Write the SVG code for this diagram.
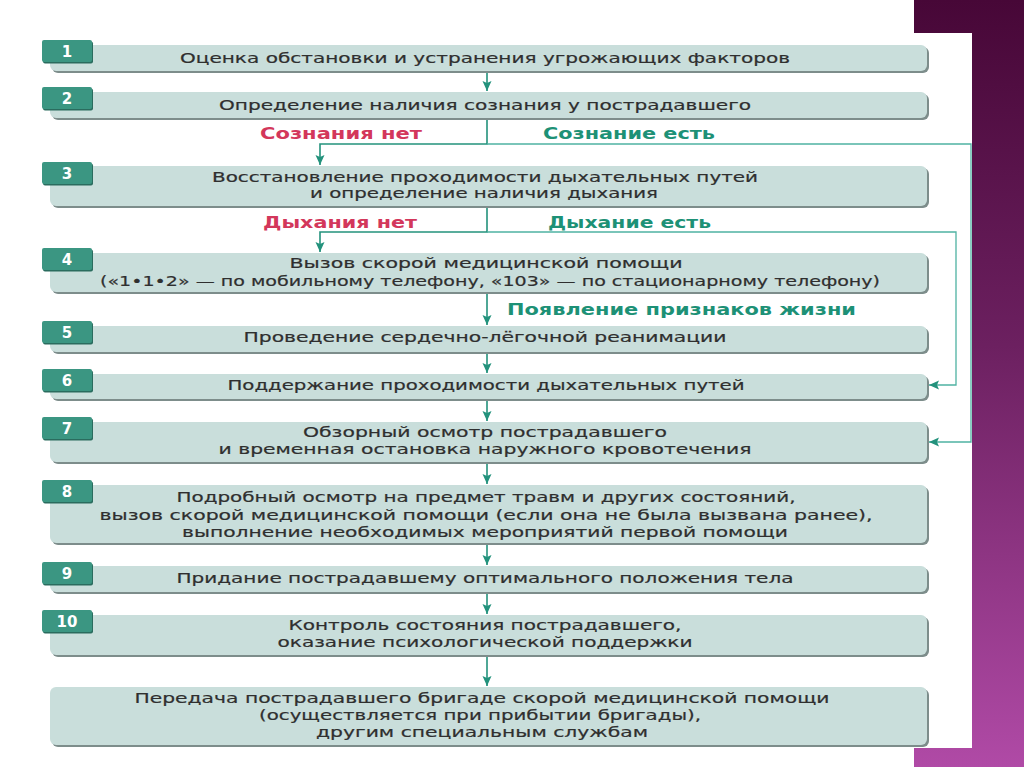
<svg xmlns="http://www.w3.org/2000/svg" width="1024" height="767" viewBox="0 0 1024 767">
<defs>
<linearGradient id="bg" x1="0" y1="0" x2="0" y2="1">
<stop offset="0" stop-color="#470737"/>
<stop offset="0.45" stop-color="#6c2060"/>
<stop offset="1" stop-color="#b04aa6"/>
</linearGradient>
<marker id="ah" markerWidth="10" markerHeight="10" refX="10" refY="5" orient="auto" markerUnits="userSpaceOnUse">
<path d="M0,0.5 L10,5 L0,9.5 L2,5 z" fill="#23927c"/>
</marker>
<style>
.sh{fill:#7d8d8b}
.bx{fill:#c9dedb}
.tb{fill:#3b9682}
.tbs{fill:#2a6c5e}
.num{font-family:"DejaVu Sans",sans-serif;font-weight:bold;font-size:15px;fill:#ffffff;text-anchor:middle}
.t{font-family:"DejaVu Sans",sans-serif;font-size:14.5px;fill:#2f2f2f;stroke:#2f2f2f;stroke-width:0.2;text-anchor:middle}
.lb{font-family:"DejaVu Sans",sans-serif;font-weight:bold;font-size:15px}
.red{fill:#d3375b}
.grn{fill:#1d9176}
.cn{fill:none;stroke:#23927c;stroke-width:1.6}
.cl{fill:none;stroke:#4fb2a2;stroke-width:1.3}
</style>
</defs>
<rect x="0" y="0" width="1024" height="767" fill="url(#bg)"/>
<rect x="0" y="0" width="914" height="767" fill="#ffffff"/>
<rect x="0" y="33" width="972" height="715" fill="#ffffff"/>

<g id="connectors">
<path class="cn" d="M487,72 V91" marker-end="url(#ah)"/>
<path class="cn" d="M487,118 V144 H320 V165" marker-end="url(#ah)"/>
<path class="cl" d="M487,144 H971 V442 H929" marker-end="url(#ah)"/>
<path class="cn" d="M487,207 V232 H320 V252" marker-end="url(#ah)"/>
<path class="cl" d="M487,232 H956 V385 H929" marker-end="url(#ah)"/>
<path class="cn" d="M487,293 V325" marker-end="url(#ah)"/>
<path class="cn" d="M487,353 V373" marker-end="url(#ah)"/>
<path class="cn" d="M487,400 V421" marker-end="url(#ah)"/>
<path class="cn" d="M487,463 V484" marker-end="url(#ah)"/>
<path class="cn" d="M487,544 V565" marker-end="url(#ah)"/>
<path class="cn" d="M487,593 V614" marker-end="url(#ah)"/>
<path class="cn" d="M487,656 V686" marker-end="url(#ah)"/>
</g>

<g id="labels">
<text class="lb red" x="260" y="139" textLength="162" lengthAdjust="spacingAndGlyphs">Сознания нет</text>
<text class="lb grn" x="543" y="139" textLength="172" lengthAdjust="spacingAndGlyphs">Сознание есть</text>
<text class="lb red" x="263" y="228" textLength="154" lengthAdjust="spacingAndGlyphs">Дыхания нет</text>
<text class="lb grn" x="548" y="228" textLength="163" lengthAdjust="spacingAndGlyphs">Дыхание есть</text>
<text class="lb grn" x="507" y="315" textLength="349" lengthAdjust="spacingAndGlyphs">Появление признаков жизни</text>
</g>

<g id="node1">
<rect class="sh" x="52" y="47" width="877" height="26" rx="6"/>
<rect class="bx" x="50" y="45" width="877" height="26" rx="6"/>
<rect class="tbs" x="43" y="41.5" width="50" height="22" rx="2"/>
<rect class="tb" x="42" y="40" width="50" height="22" rx="2"/>
<text class="num" x="67" y="57">1</text>
<text class="t" x="485" y="63" textLength="610" lengthAdjust="spacingAndGlyphs">Оценка обстановки и устранения угрожающих факторов</text>
</g>

<g id="node2">
<rect class="sh" x="52" y="94" width="877" height="26" rx="6"/>
<rect class="bx" x="50" y="92" width="877" height="26" rx="6"/>
<rect class="tbs" x="43" y="88.5" width="50" height="22" rx="2"/>
<rect class="tb" x="42" y="87" width="50" height="22" rx="2"/>
<text class="num" x="67" y="104">2</text>
<text class="t" x="485" y="110" textLength="532" lengthAdjust="spacingAndGlyphs">Определение наличия сознания у пострадавшего</text>
</g>

<g id="node3">
<rect class="sh" x="52" y="168" width="877" height="40" rx="6"/>
<rect class="bx" x="50" y="166" width="877" height="40" rx="6"/>
<rect class="tbs" x="43" y="163.5" width="50" height="22" rx="2"/>
<rect class="tb" x="42" y="162" width="50" height="22" rx="2"/>
<text class="num" x="67" y="179">3</text>
<text class="t" x="485" y="182" textLength="546" lengthAdjust="spacingAndGlyphs">Восстановление проходимости дыхательных путей</text>
<text class="t" x="484" y="198" textLength="348" lengthAdjust="spacingAndGlyphs">и определение наличия дыхания</text>
</g>

<g id="node4">
<rect class="sh" x="52" y="255" width="877" height="39" rx="6"/>
<rect class="bx" x="50" y="253" width="877" height="39" rx="6"/>
<rect class="tbs" x="43" y="249.5" width="50" height="22" rx="2"/>
<rect class="tb" x="42" y="248" width="50" height="22" rx="2"/>
<text class="num" x="67" y="265">4</text>
<text class="t" x="486" y="268" textLength="393" lengthAdjust="spacingAndGlyphs">Вызов скорой медицинской помощи</text>
<text class="t" x="490" y="286" textLength="780" lengthAdjust="spacingAndGlyphs">(«1•1•2» — по мобильному телефону, «103» — по стационарному телефону)</text>
</g>

<g id="node5">
<rect class="sh" x="52" y="328" width="877" height="26" rx="6"/>
<rect class="bx" x="50" y="326" width="877" height="26" rx="6"/>
<rect class="tbs" x="43" y="322.5" width="50" height="22" rx="2"/>
<rect class="tb" x="42" y="321" width="50" height="22" rx="2"/>
<text class="num" x="67" y="338">5</text>
<text class="t" x="485" y="342" textLength="483" lengthAdjust="spacingAndGlyphs">Проведение сердечно-лёгочной реанимации</text>
</g>

<g id="node6">
<rect class="sh" x="52" y="376" width="877" height="25" rx="6"/>
<rect class="bx" x="50" y="374" width="877" height="25" rx="6"/>
<rect class="tbs" x="43" y="370.5" width="50" height="22" rx="2"/>
<rect class="tb" x="42" y="369" width="50" height="22" rx="2"/>
<text class="num" x="67" y="386">6</text>
<text class="t" x="486" y="390" textLength="517" lengthAdjust="spacingAndGlyphs">Поддержание проходимости дыхательных путей</text>
</g>

<g id="node7">
<rect class="sh" x="52" y="424" width="877" height="40" rx="6"/>
<rect class="bx" x="50" y="422" width="877" height="40" rx="6"/>
<rect class="tbs" x="43" y="418.5" width="50" height="22" rx="2"/>
<rect class="tb" x="42" y="417" width="50" height="22" rx="2"/>
<text class="num" x="67" y="434">7</text>
<text class="t" x="485" y="437" textLength="364" lengthAdjust="spacingAndGlyphs">Обзорный осмотр пострадавшего</text>
<text class="t" x="485" y="454" textLength="533" lengthAdjust="spacingAndGlyphs">и временная остановка наружного кровотечения</text>
</g>

<g id="node8">
<rect class="sh" x="52" y="487" width="877" height="58" rx="6"/>
<rect class="bx" x="50" y="485" width="877" height="58" rx="6"/>
<rect class="tbs" x="43" y="481.5" width="50" height="22" rx="2"/>
<rect class="tb" x="42" y="480" width="50" height="22" rx="2"/>
<text class="num" x="67" y="497">8</text>
<text class="t" x="486" y="502" textLength="619" lengthAdjust="spacingAndGlyphs">Подробный осмотр на предмет травм и других состояний,</text>
<text class="t" x="486" y="520" textLength="773" lengthAdjust="spacingAndGlyphs">вызов скорой медицинской помощи (если она не была вызвана ранее),</text>
<text class="t" x="485" y="537" textLength="606" lengthAdjust="spacingAndGlyphs">выполнение необходимых мероприятий первой помощи</text>
</g>

<g id="node9">
<rect class="sh" x="52" y="568" width="877" height="26" rx="6"/>
<rect class="bx" x="50" y="566" width="877" height="26" rx="6"/>
<rect class="tbs" x="43" y="563.5" width="50" height="22" rx="2"/>
<rect class="tb" x="42" y="562" width="50" height="22" rx="2"/>
<text class="num" x="67" y="579">9</text>
<text class="t" x="485" y="583" textLength="617" lengthAdjust="spacingAndGlyphs">Придание пострадавшему оптимального положения тела</text>
</g>

<g id="node10">
<rect class="sh" x="52" y="617" width="877" height="40" rx="6"/>
<rect class="bx" x="50" y="615" width="877" height="40" rx="6"/>
<rect class="tbs" x="43" y="611.5" width="50" height="22" rx="2"/>
<rect class="tb" x="42" y="610" width="50" height="22" rx="2"/>
<text class="num" x="67" y="627">10</text>
<text class="t" x="485" y="630" textLength="393" lengthAdjust="spacingAndGlyphs">Контроль состояния пострадавшего,</text>
<text class="t" x="485" y="647" textLength="415" lengthAdjust="spacingAndGlyphs">оказание психологической поддержки</text>
</g>

<g id="node11">
<rect class="sh" x="52" y="689" width="877" height="58" rx="6"/>
<rect class="bx" x="50" y="687" width="877" height="58" rx="6"/>
<text class="t" x="482" y="703" textLength="695" lengthAdjust="spacingAndGlyphs">Передача пострадавшего бригаде скорой медицинской помощи</text>
<text class="t" x="480" y="720" textLength="442" lengthAdjust="spacingAndGlyphs">(осуществляется при прибытии бригады),</text>
<text class="t" x="482" y="737" textLength="332" lengthAdjust="spacingAndGlyphs">другим специальным службам</text>
</g>
</svg>
